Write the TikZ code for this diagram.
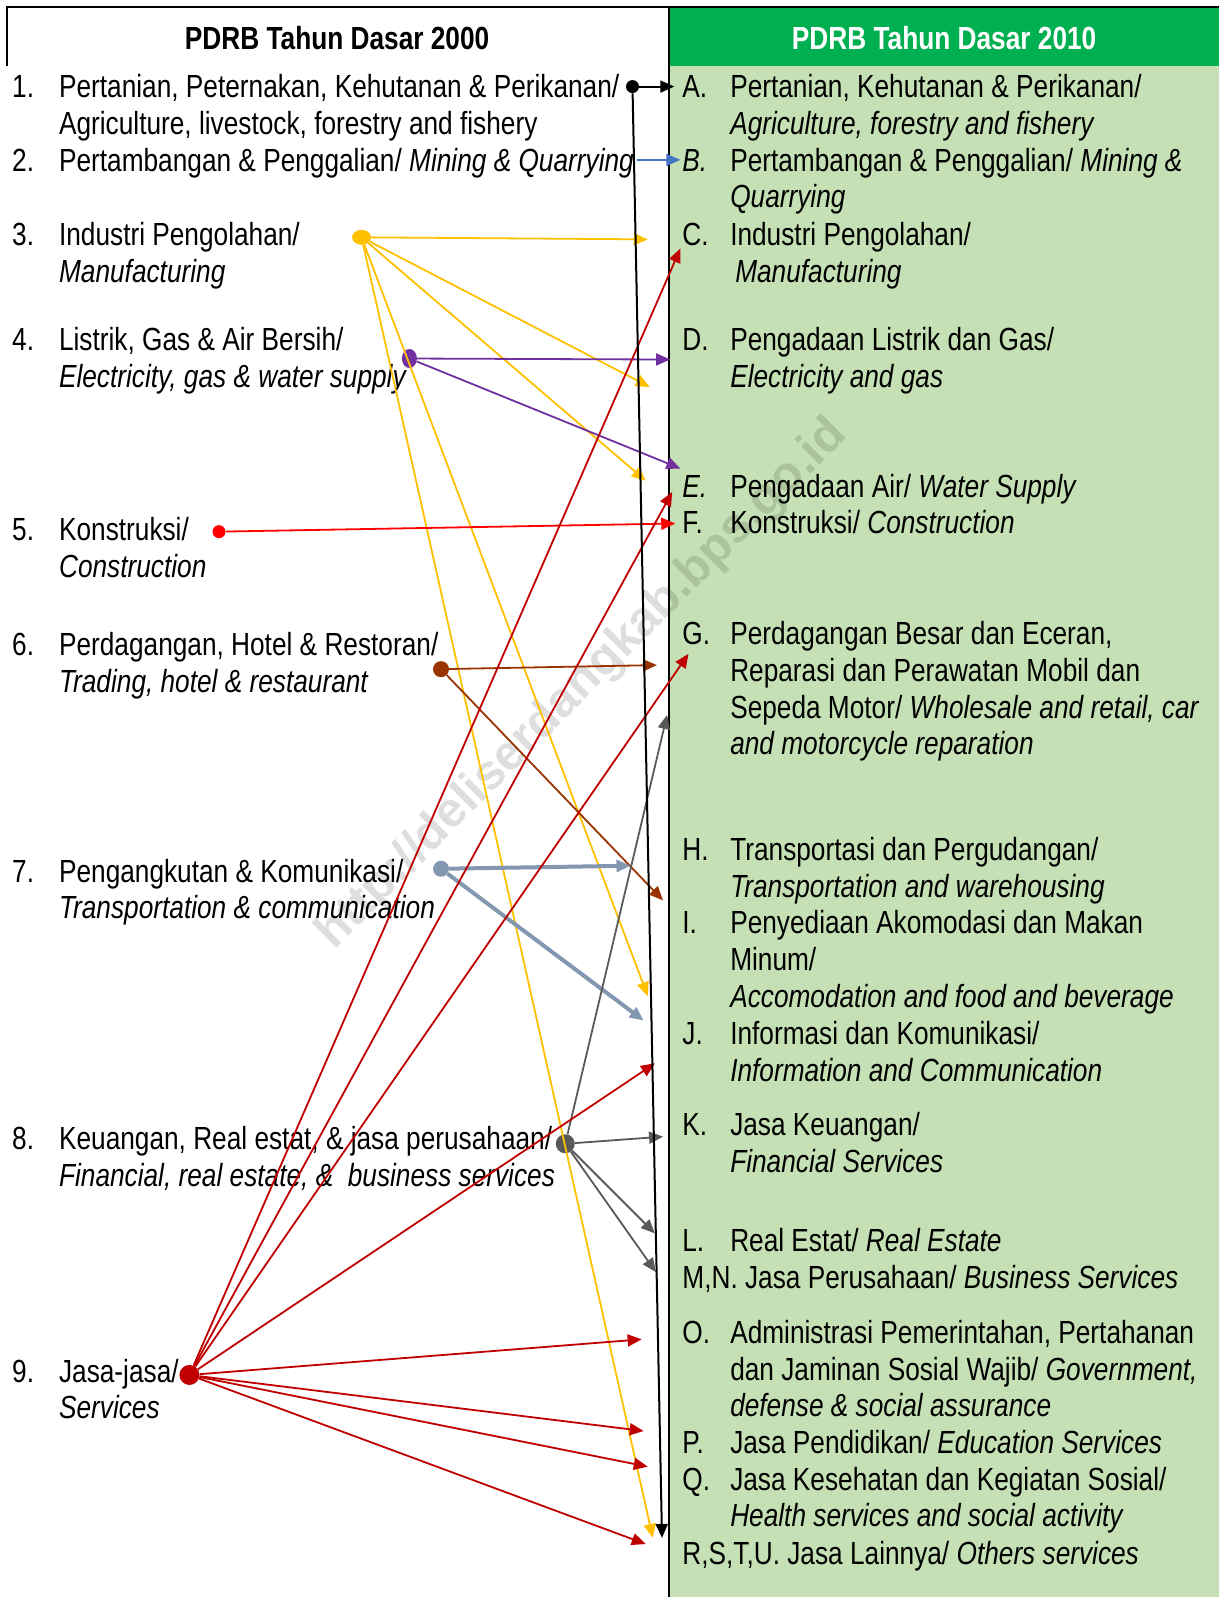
\documentclass[tikz,border=0pt]{standalone}
\usepackage{fontspec}
\setmainfont{Liberation Sans}[FakeStretch=0.82]
\newfontfamily\wmfont{Liberation Sans}
\usetikzlibrary{arrows.meta,shapes.geometric}
\definecolor{hdrgreen}{HTML}{00B050}
\definecolor{lightgreen}{HTML}{C5E0B4}
\definecolor{ygold}{HTML}{FFC000}
\definecolor{purp}{HTML}{7030A0}
\definecolor{brn}{HTML}{993300}
\definecolor{gblue}{HTML}{8497B0}
\definecolor{dgray}{HTML}{595959}
\definecolor{dred}{HTML}{C00000}
\definecolor{bblue}{HTML}{4472C4}
\definecolor{kred}{HTML}{FF0000}
\begin{document}
\begin{tikzpicture}[x=1.0184pt,y=-1.0184pt,
  txt/.style={anchor=base west,inner sep=0pt,outer sep=0pt,align=left,font=\fontsize{32}{36.66}\selectfont},
  hdr/.style={inner sep=0pt,font=\bfseries\fontsize{32}{36.66}\selectfont},
  dot/.style={ellipse,fill=#1,inner sep=0pt,minimum width=15pt,minimum height=15pt},
  arr/.style={draw=#1,line width=1.8pt,-{Triangle[length=14pt,width=12pt]}},
]
\useasboundingbox (0,0) rectangle (1197,1568);
% backgrounds
\fill[lightgreen] (657,65) rectangle (1197,1568);
\fill[hdrgreen] (657,7) rectangle (1197,65);
\draw[line width=2pt] (7,65) -- (7,7) -- (1197,7);
\draw[line width=2pt] (657,7) -- (657,1568);
% watermark
\node[rotate=45,text=black,opacity=0.13,inner sep=0pt,font=\wmfont\bfseries\fontsize{49}{49}\selectfont] (wm) at (572,672) {http://deliserdangkab.bps.go.id};
% headers
\node[hdr] (h1) at (331,37) {PDRB Tahun Dasar 2000};
\node[hdr,text=white] (h2) at (927,37) {PDRB Tahun Dasar 2010};
% left column (multi-line nodes are placed at the baseline of their last line)
\node[txt] (n1) at (12,96) {1.};
\node[txt] (t1) at (58,132) {Pertanian, Peternakan, Kehutanan \& Perikanan/\\Agriculture, livestock, forestry and fishery};
\node[txt] (n2) at (12,168) {2.};
\node[txt] (t2) at (58,168) {Pertambangan \& Penggalian/ \textit{Mining \& Quarrying}};
\node[txt] (n3) at (12,241) {3.};
\node[txt] (t3) at (58,277) {Industri Pengolahan/\\\textit{Manufacturing}};
\node[txt] (n4) at (12,344) {4.};
\node[txt] (t4) at (58,380) {Listrik, Gas \& Air Bersih/\\\textit{Electricity, gas \& water supply}};
\node[txt] (n5) at (12,531) {5.};
\node[txt] (t5) at (58,567) {Konstruksi/\\\textit{Construction}};
\node[txt] (n6) at (12,644) {6.};
\node[txt] (t6) at (58,680) {Perdagangan, Hotel \& Restoran/\\\textit{Trading, hotel \& restaurant}};
\node[txt] (n7) at (12,866) {7.};
\node[txt] (t7) at (58,902) {Pengangkutan \& Komunikasi/\\\textit{Transportation \& communication}};
\node[txt] (n8) at (12,1129) {8.};
\node[txt] (t8) at (58,1165) {Keuangan, Real estat, \& jasa perusahaan/\\\textit{Financial, real estate, \&\ \ business services}};
\node[txt] (n9) at (12,1357) {9.};
\node[txt] (t9) at (58,1393) {Jasa-jasa/\\\textit{Services}};
% right column
\node[txt] (lA) at (670,96) {A.};
\node[txt] (rA) at (717,132) {Pertanian, Kehutanan \& Perikanan/\\\textit{Agriculture, forestry and fishery}};
\node[txt] (lB) at (670,168) {\textit{B.}};
\node[txt] (rB) at (717,204) {Pertambangan \& Penggalian/ \textit{Mining \&}\\\textit{Quarrying}};
\node[txt] (lC) at (670,241) {C.};
\node[txt] (rC) at (717,277) {Industri Pengolahan/\\\hspace{5pt}\textit{Manufacturing}};
\node[txt] (lD) at (670,344) {D.};
\node[txt] (rD) at (717,380) {Pengadaan Listrik dan Gas/\\\textit{Electricity and gas}};
\node[txt] (lE) at (670,488) {\textit{E.}};
\node[txt] (rE) at (717,488) {Pengadaan Air/ \textit{Water Supply}};
\node[txt] (lF) at (670,524) {F.};
\node[txt] (rF) at (717,524) {Konstruksi/ \textit{Construction}};
\node[txt] (lG) at (670,633) {G.};
\node[txt] (rG) at (717,741) {Perdagangan Besar dan Eceran,\\Reparasi dan Perawatan Mobil dan\\Sepeda Motor/ \textit{Wholesale and retail, car}\\\textit{and motorcycle reparation}};
\node[txt] (lH) at (670,845) {H.};
\node[txt] (rH) at (717,881) {Transportasi dan Pergudangan/\\\textit{Transportation and warehousing}};
\node[txt] (lI) at (670,917) {I.};
\node[txt] (rI) at (717,989) {Penyediaan Akomodasi dan Makan\\Minum/\\\textit{Accomodation and food and beverage}};
\node[txt] (lJ) at (670,1026) {J.};
\node[txt] (rJ) at (717,1062) {Informasi dan Komunikasi/\\\textit{Information and Communication}};
\node[txt] (lK) at (670,1115) {K.};
\node[txt] (rK) at (717,1151) {Jasa Keuangan/\\\textit{Financial Services}};
\node[txt] (lL) at (670,1229) {L.};
\node[txt] (rL) at (717,1229) {Real Estat/ \textit{Real Estate}};
\node[txt] (rMN) at (670,1265) {M,N. Jasa Perusahaan/ \textit{Business Services}};
\node[txt] (lO) at (670,1319) {O.};
\node[txt] (rO) at (717,1391) {Administrasi Pemerintahan, Pertahanan\\dan Jaminan Sosial Wajib/ \textit{Government,}\\\textit{defense \& social assurance}};
\node[txt] (lP) at (670,1427) {P.};
\node[txt] (rP) at (717,1427) {Jasa Pendidikan/ \textit{Education Services}};
\node[txt] (lQ) at (670,1463) {Q.};
\node[txt] (rQ) at (717,1499) {Jasa Kesehatan dan Kegiatan Sosial/\\\textit{Health services and social activity}};
\node[txt] (rRSTU) at (670,1536) {R,S,T,U. Jasa Lainnya/ \textit{Others services}};
% source dots
\node[dot=black,minimum width=13pt,minimum height=13pt] (d1) at (621,85) {};
\coordinate (d2) at (625,157);
\node[dot=ygold,minimum width=19pt,minimum height=15pt] (d3) at (355,233) {};
\node[dot=purp,minimum width=15pt,minimum height=19pt] (d4) at (402,352) {};
\node[dot=kred,minimum width=13pt,minimum height=13pt] (d5) at (215,522) {};
\node[dot=brn,minimum width=16pt,minimum height=16pt] (d6) at (433,657) {};
\node[dot=gblue,minimum width=16pt,minimum height=16pt] (d7) at (433,853) {};
\node[dot=dgray,minimum width=19pt,minimum height=19pt] (d8) at (555,1123) {};
\node[dot=dred,minimum width=20pt,minimum height=20pt] (d9) at (186,1350) {};
% arrow ends
\coordinate (eA) at (662,85);
\coordinate (eBot) at (650,1510);
\coordinate (eB) at (668,157);
\coordinate (y1) at (636,235);
\coordinate (y2) at (638,380);
\coordinate (y3) at (634,472);
\coordinate (y4) at (636,978);
\coordinate (y5) at (641,1510);
\coordinate (p1) at (658,353);
\coordinate (p2) at (668,460);
\coordinate (k1) at (663,514);
\coordinate (b1) at (645,653);
\coordinate (b2) at (651,884);
\coordinate (g1) at (619,850);
\coordinate (g2) at (632,1002);
\coordinate (f1) at (655,702);
\coordinate (f2) at (651,1116);
\coordinate (f3) at (643,1211);
\coordinate (f4) at (644,1249);
\coordinate (r1) at (668,244);
\coordinate (r2) at (660,483);
\coordinate (r3) at (676,642);
\coordinate (r4) at (643,1044);
\coordinate (r5) at (630,1315);
\coordinate (r6) at (632,1405);
\coordinate (r7) at (636,1440);
\coordinate (r8) at (634,1516);
% connectors
\foreach \e in {y1,y2,y3,y4,y5} \draw[arr=ygold] (d3) -- (\e);
\foreach \e in {p1,p2} \draw[arr=purp] (d4) -- (\e);
\draw[arr=kred] (d5) -- (k1);
\foreach \e in {b1,b2} \draw[arr=brn] (d6) -- (\e);
\foreach \e in {g1,g2} \draw[arr=gblue,line width=4pt] (d7) -- (\e);
\foreach \e in {f1,f2,f3,f4} \draw[arr=dgray] (d8) -- (\e);
\foreach \e in {r1,r2,r3,r4,r5,r6,r7,r8} \draw[arr=dred] (d9) -- (\e);
\draw[arr=bblue] (d2) -- (eB);
\draw[arr=black,line width=2pt] (d1) -- (eA);
\draw[arr=black,line width=2pt] (d1) -- (eBot);
\end{tikzpicture}
\end{document}
